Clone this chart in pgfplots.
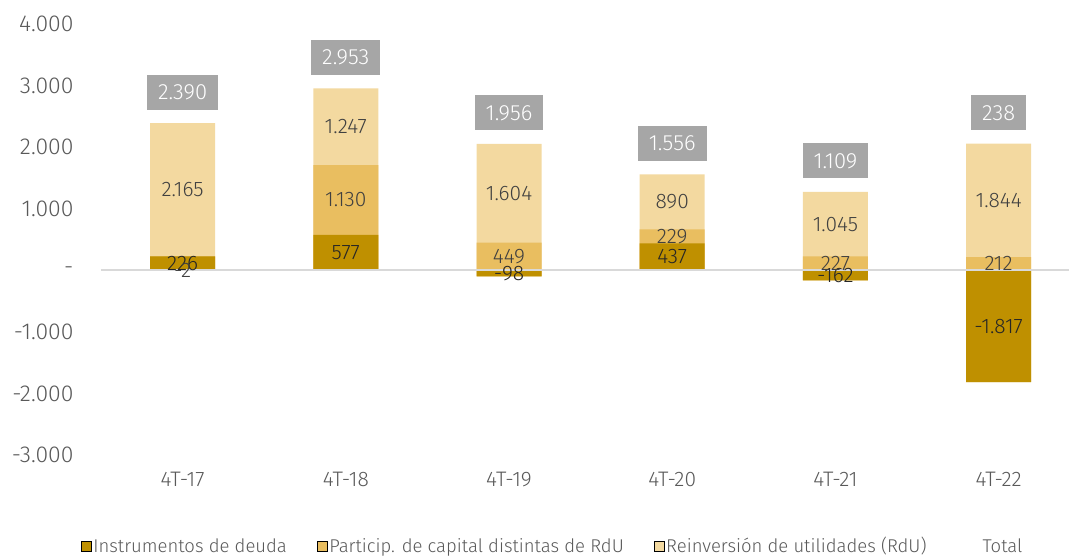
\documentclass[border=0pt]{standalone}
\usepackage{pgfplots}
\pgfplotsset{compat=1.18}
\usepackage{pgfplotstable}
\usepackage{fontspec}
\setmainfont{Fira Sans Light}
\definecolor{cdeu}{RGB}{191,144,0}
\definecolor{cpar}{RGB}{233,190,96}
\definecolor{crdu}{RGB}{243,217,160}
\definecolor{cbox}{RGB}{166,166,166}
\definecolor{ctxt}{RGB}{89,89,89}
\definecolor{clab}{RGB}{64,64,64}
\definecolor{czero}{RGB}{217,217,217}
\pgfplotstableread{
x deuda part rdu total
0 226 -2 2165 2390
1 577 1130 1247 2953
2 -98 449 1604 1956
3 437 229 890 1556
4 -162 227 1045 1109
5 -1817 212 1844 238
}\datatbl
\begin{document}
\begin{tikzpicture}[x=1pt,y=1pt]
\begin{axis}[
  at={(101pt,102pt)}, anchor=south west, scale only axis,
  width=967.8pt, height=431pt,
  xmin=-0.5, xmax=5.43, ymin=-3000, ymax=4000,
  clip=false,
  axis line style={draw=none}, tick style={draw=none},
  ytick={-3000,-2000,-1000,0,1000,2000,3000,4000},
  yticklabels={-3.000,-2.000,-1.000,-,1.000,2.000,3.000,4.000},
  xtick={0,1,2,3,4,5},
  xticklabels={4T-17,4T-18,4T-19,4T-20,4T-21,4T-22},
  yticklabel style={font=\fontsize{23}{27}\selectfont, text=ctxt, xshift=-24pt},
  xticklabel style={font=\fontsize{21}{25}\selectfont, text=ctxt, yshift=-14pt},
  legend style={at={(axis description cs:-0.024,-0.211)}, anchor=west, draw=none, fill=none,
    font=\fontsize{18.5}{22}\selectfont, text=ctxt, legend columns=4,
    /tikz/every even column/.append style={column sep=28pt}},
  legend image code/.code={\fill[#1] (0pt,-5pt) rectangle (10pt,5pt);},
  /pgf/number format/fixed, /pgf/number format/precision=0,
  /pgf/number format/1000 sep={.}, /pgf/number format/assume math mode=true,
]
\addlegendimage{fill=cdeu}
\addlegendentry{Instrumentos de deuda}
\addlegendimage{fill=cpar}
\addlegendentry{Particip. de capital distintas de RdU}
\addlegendimage{fill=crdu}
\addlegendentry{Reinversión de utilidades (RdU)}
\addlegendimage{draw=none, fill=none, legend image code/.code={\path[draw=none, fill=none] (0pt,-5pt) rectangle (24pt,5pt);}}
\addlegendentry{Total}
% bars (overlapping, drawn from zero)
\addplot[ybar, bar width=65pt, bar shift=0pt, fill=crdu, draw=none, forget plot]
  table[x=x, y expr={max(\thisrow{deuda},0)+max(\thisrow{part},0)+\thisrow{rdu}}] {\datatbl};
\addplot[ybar, bar width=65pt, bar shift=0pt, fill=cpar, draw=none, forget plot]
  table[x=x, y expr={max(\thisrow{deuda},0)+max(\thisrow{part},0)}] {\datatbl};
\addplot[ybar, bar width=65pt, bar shift=0pt, fill=cdeu, draw=none, forget plot]
  table[x=x, y expr={max(\thisrow{deuda},0)}] {\datatbl};
\addplot[ybar, bar width=65pt, bar shift=0pt, fill=cpar, draw=none, forget plot]
  table[x=x, y expr={min(\thisrow{part},0)+min(\thisrow{deuda},0)}] {\datatbl};
\addplot[ybar, bar width=65pt, bar shift=0pt, fill=cdeu, draw=none, forget plot]
  table[x=x, y expr={min(\thisrow{deuda},0)}] {\datatbl};
% zero line
\draw[czero, line width=2pt] (axis cs:-0.5,0) -- (axis cs:5.43,0);
% labels
\addplot[draw=none, mark=none, forget plot, nodes near coords, nodes near coords align=center,
  point meta=\thisrow{deuda},
  every node near coord/.append style={font=\fontsize{21}{25}\selectfont, text=black!85}]
  table[x=x, y expr={\thisrow{deuda}/2}] {\datatbl};
\addplot[draw=none, mark=none, forget plot, nodes near coords, nodes near coords align=center,
  point meta=\thisrow{part},
  every node near coord/.append style={font=\fontsize{21}{25}\selectfont, text=clab}]
  table[x=x, y expr={\thisrow{part}>=0 ? max(\thisrow{deuda},0)+\thisrow{part}/2 : min(\thisrow{deuda},0)+\thisrow{part}/2}] {\datatbl};
\addplot[draw=none, mark=none, forget plot, nodes near coords, nodes near coords align=center,
  point meta=\thisrow{rdu},
  every node near coord/.append style={font=\fontsize{21}{25}\selectfont, text=clab}]
  table[x=x, y expr={max(\thisrow{deuda},0)+max(\thisrow{part},0)+\thisrow{rdu}/2}] {\datatbl};
\addplot[draw=none, mark=none, forget plot, nodes near coords, nodes near coords align=center,
  point meta=\thisrow{total},
  every node near coord/.append style={font=\fontsize{22}{26}\selectfont, text=white,
    fill=cbox, inner xsep=11pt, minimum height=35pt, yshift=31pt}]
  table[x=x, y expr={max(\thisrow{deuda},0)+max(\thisrow{part},0)+\thisrow{rdu}}] {\datatbl};
\end{axis}
\pgfresetboundingbox
\useasboundingbox (0,0) rectangle (1069,557);
\end{tikzpicture}
\end{document}
